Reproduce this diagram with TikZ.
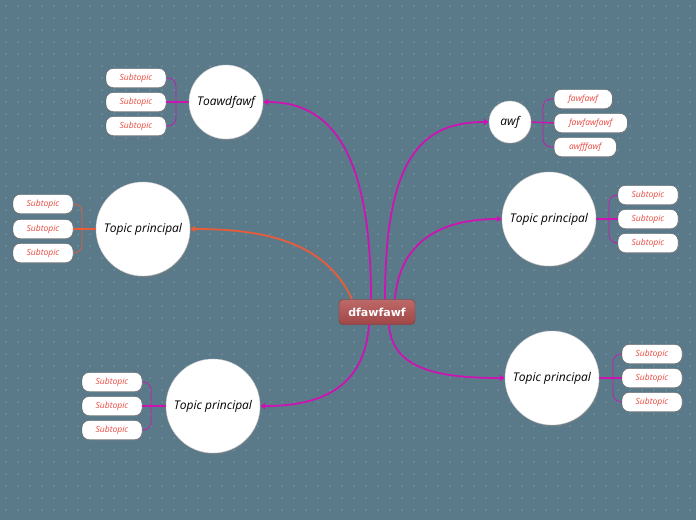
\documentclass[tikz,border=0pt]{standalone}
\usepackage{fontspec}
\setmainfont{Open Sans}
\newfontfamily\rootfont{DejaVu Sans}
\usetikzlibrary{arrows.meta, shadows}

\definecolor{bgblue}{RGB}{90,122,138}
\definecolor{gridmark}{RGB}{108,138,152}
\definecolor{linkpink}{RGB}{204,20,178}
\definecolor{linkorange}{RGB}{232,92,58}
\definecolor{subred}{RGB}{232,72,62}
\definecolor{rootred}{RGB}{178,78,78}

\begin{document}
\begin{tikzpicture}[
    x=1pt, y=-1pt,
    topic/.style={circle, fill=white, draw=gray!40, inner sep=0pt,
                  font=\itshape\fontsize{12}{14}\selectfont,
                  drop shadow={shadow xshift=1pt, shadow yshift=-1.5pt, opacity=0.45}},
    subtopic/.style={rectangle, rounded corners=7pt, fill=white, draw=gray!70!black,
                     minimum height=19pt, inner sep=0pt, text=subred,
                     font=\itshape\fontsize{8.5}{10}\selectfont,
                     drop shadow={shadow xshift=0.8pt, shadow yshift=-1pt, opacity=0.4}},
    rootbox/.style={rectangle, rounded corners=4pt, minimum width=76pt, minimum height=25pt,
                    top color=rootred!85!white, bottom color=rootred!90!black, draw=rootred!70!black,
                    text=white, font=\rootfont\bfseries\fontsize{11}{13}\selectfont},
    link/.style={line width=1.8pt, -{Triangle[length=5pt, width=6pt]}},
    stem/.style={line width=1.4pt},
    brace/.style={line width=0.7pt, rounded corners=8pt},
  ]
  % Background and grid marks
  \fill[bgblue] (0,0) rectangle (696,520);
  \useasboundingbox (0,0) rectangle (696,520);
  \draw[gridmark, line width=0.4pt]
    \foreach \gx in {6,18,...,690} { \foreach \gy in {6,18,...,515} {
      (\gx-1.3,\gy) -- (\gx+1.3,\gy) (\gx,\gy-1.3) -- (\gx,\gy+1.3) } };

  % Central topic
  \node[rootbox] (root) at (377,312) {dfawfawf};

  % Main topics
  \node[topic, minimum size=74pt] (toaw)  at (226,102) {Toawdfawf};
  \node[topic, minimum size=42pt] (awf)   at (510,122) {awf};
  \node[topic, minimum size=94pt] (left)  at (143,229) {Topic principal};
  \node[topic, minimum size=94pt] (rup)   at (549,219) {Topic principal};
  \node[topic, minimum size=94pt] (rlow)  at (552,378) {Topic principal};
  \node[topic, minimum size=94pt] (blow)  at (213,406) {Topic principal};

  % Subtopics
  \node[subtopic, minimum width=60pt] (toaw1) at (136,78)  {Subtopic};
  \node[subtopic, minimum width=60pt] (toaw2) at (136,102) {Subtopic};
  \node[subtopic, minimum width=60pt] (toaw3) at (136,126) {Subtopic};

  \node[subtopic, minimum width=58pt, anchor=west] (awf1) at (554,99)  {fawfawf};
  \node[subtopic, minimum width=73pt, anchor=west] (awf2) at (554,123) {fawfawfawf};
  \node[subtopic, minimum width=62pt, anchor=west] (awf3) at (554,147) {awfffawf};

  \node[subtopic, minimum width=60pt] (left1) at (43,204) {Subtopic};
  \node[subtopic, minimum width=60pt] (left2) at (43,229) {Subtopic};
  \node[subtopic, minimum width=60pt] (left3) at (43,253) {Subtopic};

  \node[subtopic, minimum width=60pt] (rup1) at (648,195) {Subtopic};
  \node[subtopic, minimum width=60pt] (rup2) at (648,219) {Subtopic};
  \node[subtopic, minimum width=60pt] (rup3) at (648,243) {Subtopic};

  \node[subtopic, minimum width=60pt] (rlow1) at (652,354) {Subtopic};
  \node[subtopic, minimum width=60pt] (rlow2) at (652,378) {Subtopic};
  \node[subtopic, minimum width=60pt] (rlow3) at (652,402) {Subtopic};

  \node[subtopic, minimum width=60pt] (blow1) at (112,382) {Subtopic};
  \node[subtopic, minimum width=60pt] (blow2) at (112,406) {Subtopic};
  \node[subtopic, minimum width=60pt] (blow3) at (112,430) {Subtopic};

  % Links from the central topic
  \draw[link, linkpink] (root.north) ++(-6,0) coordinate (r1)
    .. controls (371,150) and (330,102) .. (toaw.east);
  \draw[link, linkpink] (root.north) ++(8,0) coordinate (r2)
    .. controls (385,160) and (420,122) .. (awf.west);
  \draw[link, linkorange] (root.north) ++(-25,0) coordinate (r3)
    .. controls (325,240) and (260,229) .. (left.east);
  \draw[link, linkpink] (root.north) ++(18,0) coordinate (r4)
    .. controls (400,235) and (450,219) .. (rup.west);
  \draw[link, linkpink] (root.south) ++(12,0) coordinate (r5)
    .. controls (392,370) and (440,378) .. (rlow.west);
  \draw[link, linkpink] (root.south) ++(-8,0) coordinate (r6)
    .. controls (364,395) and (310,406) .. (blow.east);

  % Braces to subtopics
  \draw[stem, linkpink] (toaw.west) -- (toaw2.east);
  \draw[brace, linkpink] (toaw1.east) -| (176,102) |- (toaw3.east);
  \draw[stem, linkpink] (awf.east) -- (awf2.west);
  \draw[brace, linkpink] (awf1.west) -| (543,123) |- (awf3.west);
  \draw[stem, linkorange] (left.west) -- (left2.east);
  \draw[brace, linkorange] (left1.east) -| (82,229) |- (left3.east);
  \draw[stem, linkpink] (rup.east) -- (rup2.west);
  \draw[brace, linkpink] (rup1.west) -| (609,219) |- (rup3.west);
  \draw[stem, linkpink] (rlow.east) -- (rlow2.west);
  \draw[brace, linkpink] (rlow1.west) -| (613,378) |- (rlow3.west);
  \draw[stem, linkpink] (blow.west) -- (blow2.east);
  \draw[brace, linkpink] (blow1.east) -| (151,406) |- (blow3.east);
\end{tikzpicture}
\end{document}
